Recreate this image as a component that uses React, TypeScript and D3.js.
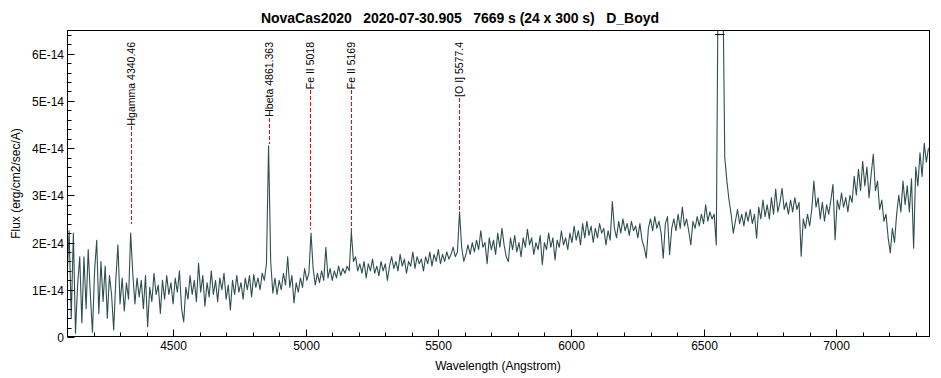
import React, { useEffect, useRef } from "react";
import * as d3 from "d3";

const TITLE = "NovaCas2020   2020-07-30.905   7669 s (24 x 300 s)   D_Boyd";
const X_LABEL = "Wavelength (Angstrom)";
const Y_LABEL = "Flux (erg/cm2/sec/A)";

// spectrum grid (Angstrom) and flux values in units of 1E-14 erg/cm2/sec/A
const WAVE_START = 4100;
const WAVE_STEP = 8;
const FLUX: number[] = [
  1.2, 2.25, 0.4, 2.2, 0.08, 1.1, 1.7, 0.3, 1.7, 0.6,
  1.85, 0.9, 0.1, 1.4, 2.05, 0.5, 1.6, 0.75, 1.5, 0.4,
  1.3, 0.9, 0.15, 1.2, 1.95, 0.7, 1.25, 0.55, 1.15, 0.8,
  2.2, 1.35, 0.7, 1.25, 0.85, 1.2, 0.6, 1.3, 0.22, 1.05,
  0.75, 1.35, 0.9, 1.1, 0.5, 1.2, 0.8, 1.3, 0.9, 1.15,
  0.7, 1.25, 0.95, 1.4, 0.6, 0.32, 1.05, 0.8, 1.3, 0.9,
  1.2, 0.75, 1.56, 0.95, 1.3, 0.65, 1.15, 0.85, 1.4, 0.9,
  1.2, 0.75, 1.25, 1.0, 1.35, 0.8, 1.1, 0.57, 1.2, 0.9,
  1.3, 0.95, 1.15, 0.8, 1.25, 1.0, 1.3, 0.85, 1.32, 1.05,
  1.25, 1.0, 1.35, 1.2, 1.55, 4.05, 1.6, 0.93, 1.25, 0.9,
  1.2, 1.0, 1.35, 1.1, 1.7, 1.05, 1.3, 0.72, 1.15, 0.95,
  1.25, 1.05, 1.45, 1.2, 1.35, 2.2, 1.45, 1.1, 1.35, 1.15,
  1.4, 1.2, 1.9, 1.25, 1.45, 1.2, 1.4, 1.25, 1.5, 1.3,
  1.45, 1.35, 1.5, 1.4, 2.23, 1.6, 1.7, 1.4, 1.55, 1.35,
  1.6, 1.25, 1.55, 1.4, 1.65, 1.35, 1.5, 1.3, 1.6, 1.4,
  1.55, 1.2, 1.5, 1.7, 1.45, 1.6, 1.4, 1.75, 1.5, 1.65,
  1.35, 1.6, 1.5, 1.8, 1.45, 1.7, 1.55, 1.65, 1.4, 1.7,
  1.55, 1.8, 1.5, 1.75, 1.6, 1.85, 1.55, 1.75, 1.6, 1.8,
  1.65, 1.75, 1.9, 1.7, 1.8, 2.65, 1.9, 1.6, 1.75, 1.95,
  1.75, 2.0, 1.8, 2.05, 1.85, 2.25, 1.9, 2.0, 1.55, 2.1,
  1.85, 2.05, 1.75, 2.2, 1.9, 2.3, 1.95, 1.7, 1.6, 2.1,
  1.85, 2.15, 1.8, 2.0, 1.7, 2.1, 1.9, 2.28, 1.95, 2.1,
  1.75, 2.0, 1.85, 2.15, 1.53, 2.0, 1.85, 2.2, 1.9, 2.1,
  1.63, 2.05, 1.9, 2.25, 1.95, 2.1, 1.85, 2.2, 2.0, 2.35,
  2.05, 2.25, 1.95, 2.4, 2.1, 2.45, 2.15, 2.35, 2.0, 2.3,
  2.1, 2.4, 2.2, 2.3, 1.95, 2.25, 2.05, 2.87, 2.3, 2.1,
  2.45, 2.2, 2.5, 2.25, 2.4, 2.15, 2.45, 2.25, 2.35, 2.1,
  2.4, 2.05, 1.9, 1.67, 2.3, 2.5, 2.25, 2.55, 2.3, 2.45,
  2.2, 1.67, 2.4, 2.55, 1.74, 2.3, 2.5, 2.25, 2.6, 2.3,
  2.75, 2.35, 2.5, 2.25, 1.95, 2.45, 2.3, 2.55, 2.35, 2.6,
  2.4, 2.8, 2.45, 2.65, 2.5, 2.6, 1.95, 8.5, 11.0, 8.0,
  3.8, 3.3, 2.9, 2.6, 2.2, 2.45, 2.7, 2.4, 2.6, 2.35,
  2.65, 2.45, 2.7, 2.4, 2.6, 2.09, 2.75, 2.5, 2.9, 2.55,
  2.8, 2.5, 2.95, 2.6, 3.13, 2.65, 2.85, 3.15, 2.7, 2.85,
  2.6, 2.9, 2.65, 2.95, 2.7, 2.85, 1.71, 2.5, 2.3, 2.6,
  2.35, 2.7, 3.3, 2.75, 2.95, 2.5, 2.85, 2.45, 2.8, 2.6,
  2.9, 3.23, 2.06, 2.9, 2.7, 3.05, 2.75, 2.95, 2.65, 3.0,
  2.85, 3.4, 3.0, 3.55, 3.1, 3.72, 3.2, 3.6, 2.95, 3.45,
  3.87, 3.1, 3.3, 2.7, 2.9, 2.45, 2.6, 2.1, 1.78, 2.3,
  2.0, 2.6, 3.0, 2.65, 3.3, 2.8, 3.2, 2.65, 3.35, 1.88,
  3.6, 3.2, 3.9, 3.4, 4.1, 3.7, 4.0,
];

// identified lines
const LINE_NAMES = ["Hgamma 4340.46", "Hbeta 4861.363", "Fe II 5018", "Fe II 5169", "[O I] 5577.4"];
const LINE_WAVES = [4340.46, 4861.363, 5018, 5169, 5577.4];
const LINE_MARK_FLUX = [2.4, 4.08, 2.29, 2.04, 2.68];

const X_DOMAIN = [4100, 7350];
const Y_DOMAIN = [0, 6.5];
const X_MAJOR_TICKS = [4500, 5000, 5500, 6000, 6500, 7000];
const Y_MAJOR_TICKS = [0, 1, 2, 3, 4, 5, 6];
const Y_TICK_LABELS = ["0", "1E-14", "2E-14", "3E-14", "4E-14", "5E-14", "6E-14"];

const FONT = "'Liberation Sans', Arial, sans-serif";

export default function App() {
  const ref = useRef<SVGSVGElement>(null);

  useEffect(() => {
    const svg = d3.select(ref.current);
    svg.selectAll("*").remove();
    const W = 941, H = 378;
    const L = 67, R = 929, T = 30, B = 337;
    const x = d3.scaleLinear().domain(X_DOMAIN).range([L, R]);
    const y = d3.scaleLinear().domain(Y_DOMAIN).range([B, T]);

    svg.append("rect").attr("width", W).attr("height", H).attr("fill", "#fff");
    svg.append("defs").append("clipPath").attr("id", "plotclip")
      .append("rect").attr("x", L).attr("y", T).attr("width", R - L).attr("height", B - T);

    const data: [number, number][] = FLUX.map((f, i) => [WAVE_START + i * WAVE_STEP, f]);

    // identified-line markers
    LINE_NAMES.forEach((name, i) => {
      const xp = Math.round(x(LINE_WAVES[i])) + 0.5;
      const t = svg.append("text")
        .attr("transform", `translate(${xp},42) rotate(-90)`)
        .attr("text-anchor", "end")
        .attr("dy", "0.35em")
        .attr("font-family", FONT)
        .attr("font-size", 10.5)
        .attr("fill", "#000")
        .style("white-space", "pre")
        .text(name);
      const len = (t.node() as SVGTextElement).getComputedTextLength();
      svg.append("line")
        .attr("x1", xp).attr("x2", xp)
        .attr("y1", Math.round(42 + len + 1)).attr("y2", Math.round(y(LINE_MARK_FLUX[i])))
        .attr("stroke", "#ff0000").attr("stroke-width", 1)
        .attr("shape-rendering", "crispEdges")
        .attr("stroke-dasharray", "4,2");
    });

    // spectrum
    const line = d3.line<[number, number]>().x(d => x(d[0])).y(d => y(d[1]));
    svg.append("path").attr("d", line(data) || "")
      .attr("fill", "none").attr("stroke", "#2f4f4f").attr("stroke-width", 1.1)
      .attr("stroke-linejoin", "round")
      .attr("clip-path", "url(#plotclip)");

    // clipping marker at the top for off-scale values
    const yMax = Y_DOMAIN[1];
    for (let i = 1; i < data.length; i++) {
      if (data[i][1] > yMax && data[i - 1][1] <= yMax) {
        let j = i;
        while (j + 1 < data.length && data[j + 1][1] > yMax) j++;
        const a = data[i - 1], b = data[i];
        const xl = x(a[0] + (b[0] - a[0]) * (yMax - a[1]) / (b[1] - a[1]));
        const c = data[j], d = data[j + 1];
        const xr = x(c[0] + (d[0] - c[0]) * (c[1] - yMax) / (c[1] - d[1]));
        svg.append("line").attr("x1", xl - 2.5).attr("x2", xr + 1)
          .attr("y1", T + 4.5).attr("y2", T + 4.5)
          .attr("stroke", "#000").attr("stroke-width", 1);
      }
    }

    // frame
    svg.append("rect").attr("x", L + 0.5).attr("y", T + 0.5)
      .attr("width", R - L).attr("height", B - T - 1)
      .attr("fill", "none").attr("stroke", "#000").attr("stroke-width", 1);

    const by = B - 0.5;
    // x ticks
    const xMinor = d3.range(4200, 7350, 100).filter(v => !X_MAJOR_TICKS.includes(v));
    xMinor.forEach(v => {
      const xp = Math.round(x(v)) + 0.5;
      svg.append("line").attr("x1", xp).attr("x2", xp).attr("y1", by).attr("y2", by - 4)
        .attr("stroke", "#000");
    });
    X_MAJOR_TICKS.forEach(v => {
      const xp = Math.round(x(v)) + 0.5;
      svg.append("line").attr("x1", xp).attr("x2", xp).attr("y1", by).attr("y2", by - 7)
        .attr("stroke", "#000");
      svg.append("text").attr("x", xp).attr("y", 350)
        .attr("text-anchor", "middle").attr("font-family", FONT).attr("font-size", 12)
        .attr("fill", "#000").text(String(v));
    });

    // y ticks
    const lx = L + 0.5;
    const yMinor = d3.range(1, 33).map(k => k * 0.2).filter(v => Math.abs(v - Math.round(v)) > 1e-6);
    yMinor.forEach(v => {
      const yp = Math.round(y(v)) + 0.5;
      svg.append("line").attr("x1", lx).attr("x2", lx + 4).attr("y1", yp).attr("y2", yp)
        .attr("stroke", "#000");
    });
    Y_MAJOR_TICKS.forEach((v, i) => {
      const yp = Math.round(y(v)) + 0.5;
      svg.append("line").attr("x1", lx).attr("x2", lx + 7).attr("y1", yp).attr("y2", yp)
        .attr("stroke", "#000");
      svg.append("text").attr("x", 64).attr("y", yp).attr("dy", "0.35em")
        .attr("text-anchor", "end").attr("font-family", FONT).attr("font-size", 12)
        .attr("fill", "#000").text(Y_TICK_LABELS[i]);
    });

    // titles
    svg.append("text").attr("x", 261).attr("y", 23)
      .attr("text-anchor", "start").attr("font-family", FONT).attr("font-size", 14)
      .attr("font-weight", "bold").attr("fill", "#000")
      .attr("textLength", 398).attr("lengthAdjust", "spacing")
      .style("white-space", "pre").text(TITLE);
    svg.append("text").attr("x", (L + R) / 2).attr("y", 370)
      .attr("text-anchor", "middle").attr("font-family", FONT).attr("font-size", 12)
      .attr("fill", "#000").text(X_LABEL);
    svg.append("text").attr("transform", `translate(20,${(T + B) / 2}) rotate(-90)`)
      .attr("text-anchor", "middle").attr("font-family", FONT).attr("font-size", 12)
      .attr("fill", "#000").text(Y_LABEL);
  }, []);

  return (
    <svg ref={ref} width={941} height={378}
      style={{ position: "absolute", left: 0, top: 0, display: "block" }} />
  );
}
